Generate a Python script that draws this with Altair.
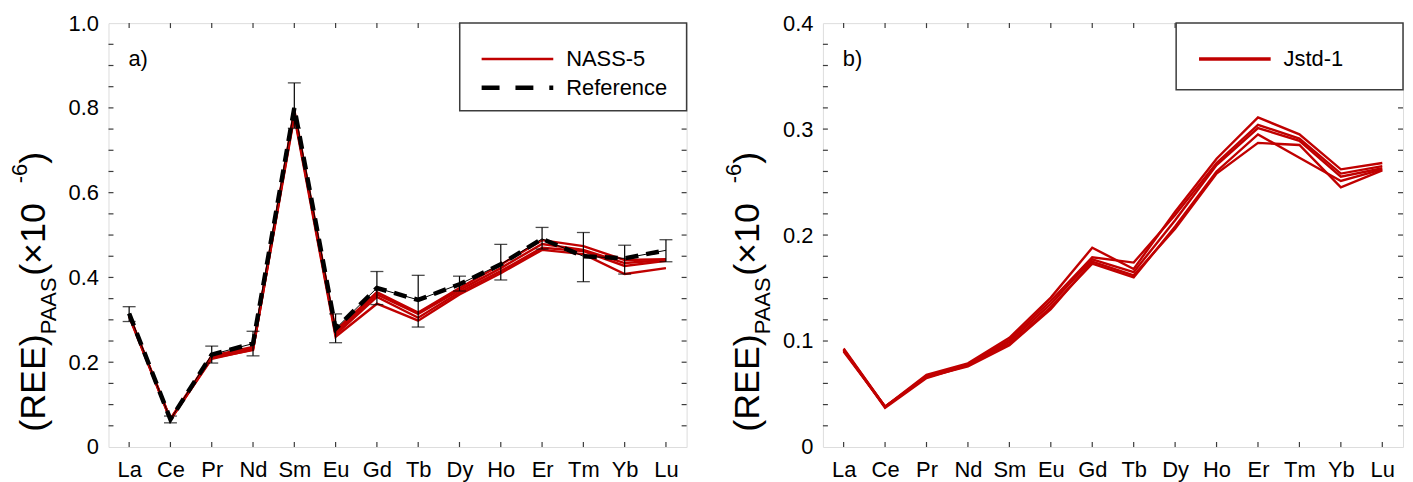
import altair as alt
import pandas as pd

# ---------------- data ----------------
elements = ["La", "Ce", "Pr", "Nd", "Sm", "Eu", "Gd", "Tb", "Dy", "Ho", "Er", "Tm", "Yb", "Lu"]

nass5_run1 = [0.312, 0.066, 0.215, 0.236, 0.795, 0.275, 0.365, 0.317, 0.375, 0.430, 0.488, 0.474, 0.441, 0.443]
nass5_run2 = [0.310, 0.065, 0.212, 0.232, 0.790, 0.270, 0.360, 0.314, 0.370, 0.422, 0.479, 0.465, 0.434, 0.441]
nass5_run3 = [0.308, 0.064, 0.210, 0.229, 0.785, 0.265, 0.354, 0.305, 0.365, 0.415, 0.470, 0.462, 0.427, 0.439]
nass5_run4 = [0.310, 0.065, 0.208, 0.230, 0.780, 0.260, 0.338, 0.298, 0.360, 0.410, 0.465, 0.455, 0.408, 0.422]

ref_value = [0.315, 0.065, 0.218, 0.244, 0.800, 0.279, 0.375, 0.347, 0.384, 0.431, 0.491, 0.450, 0.445, 0.464]
ref_low   = [0.296, 0.057, 0.198, 0.215, 0.752, 0.246, 0.336, 0.283, 0.368, 0.394, 0.467, 0.390, 0.408, 0.437]
ref_high  = [0.331, 0.073, 0.238, 0.273, 0.859, 0.314, 0.414, 0.405, 0.403, 0.478, 0.518, 0.506, 0.476, 0.489]

jstd_run1 = [0.093, 0.038, 0.068, 0.079, 0.103, 0.141, 0.188, 0.168, 0.222, 0.272, 0.311, 0.295, 0.262, 0.268]
jstd_run2 = [0.092, 0.038, 0.067, 0.078, 0.101, 0.138, 0.179, 0.174, 0.219, 0.268, 0.304, 0.291, 0.258, 0.265]
jstd_run3 = [0.091, 0.038, 0.066, 0.077, 0.099, 0.135, 0.177, 0.165, 0.214, 0.266, 0.301, 0.289, 0.255, 0.263]
jstd_run4 = [0.092, 0.037, 0.065, 0.077, 0.097, 0.132, 0.173, 0.160, 0.208, 0.260, 0.295, 0.273, 0.251, 0.262]
jstd_run5 = [0.090, 0.038, 0.066, 0.076, 0.096, 0.130, 0.175, 0.162, 0.206, 0.258, 0.287, 0.285, 0.245, 0.261]

left_major = [0, 0.2, 0.4, 0.6, 0.8, 1.0]
left_minor = [0.05, 0.1, 0.15, 0.2, 0.25, 0.3, 0.35, 0.4, 0.45, 0.5, 0.55, 0.6, 0.65, 0.7,
              0.75, 0.8, 0.85, 0.9, 0.95]
right_major = [0, 0.1, 0.2, 0.3, 0.4]
right_minor = [0.02, 0.04, 0.06, 0.08, 0.1, 0.12, 0.14, 0.16, 0.18, 0.2, 0.22, 0.24, 0.26, 0.28,
               0.3, 0.32, 0.34, 0.36, 0.38]

# ---------------- style ----------------
FONT = "Liberation Sans"
RED = "#c00000"
FRAME = "#3c3c3c"
W1, W2, H = 581, 583, 426
TICK = 5

def long_df(runs):
    rows = []
    for name, vals in runs.items():
        for e, v in zip(elements, vals):
            rows.append({"run": name, "element": e, "value": v})
    return pd.DataFrame(rows)

nass_df = long_df({"r1": nass5_run1, "r2": nass5_run2, "r3": nass5_run3, "r4": nass5_run4})
jstd_df = long_df({"r1": jstd_run1, "r2": jstd_run2, "r3": jstd_run3, "r4": jstd_run4, "r5": jstd_run5})
ref_df = pd.DataFrame({"element": elements, "value": ref_value, "low": ref_low, "high": ref_high})
el_df = pd.DataFrame({"element": elements})
one = pd.DataFrame({"k": [0]})

xscale = alt.Scale(type="point", domain=elements, padding=0.5)
xaxis = alt.Axis(title=None, labelAngle=0, ticks=False, domain=False, grid=False,
                 labelPadding=13, labelFontSize=22, labelFont=FONT, labelColor="black")

def xenc():
    return alt.X("element:N", scale=xscale, axis=xaxis, sort=elements)

def yenc(field, domain, values):
    return alt.Y(field, scale=alt.Scale(domain=domain, nice=False, zero=True),
                 axis=alt.Axis(title=None, values=values, ticks=False, domain=False, grid=False,
                               labelPadding=10, labelFontSize=22, labelFont=FONT, labelColor="black",
                               labelExpr="datum.value == 0 ? '0' : format(datum.value, '.1f')"))

# char widths (em) for Arial-metric font, used to chain the axis title pieces
CW = {"(": 0.333, ")": 0.333, "R": 0.722, "E": 0.667, "P": 0.667, "A": 0.667, "S": 0.667,
      " ": 0.278, "×": 0.584, "1": 0.556, "0": 0.556, "-": 0.333, "6": 0.556}

def text_len(s, size):
    return sum(CW.get(c, 0.556) for c in s) * size

def ytitle_layers():
    F, f = 36, 22
    base_x = -64
    pieces = [("(REE)", F, base_x), ("PAAS", f, base_x + 11), ("  (×10", F, base_x),
              ("-6", f, base_x - 18), (")", F, base_x)]
    total = sum(text_len(s, sz) for s, sz, _ in pieces)
    y = 270 + total / 2
    layers = []
    for s, sz, bx in pieces:
        layers.append(alt.Chart(one).mark_text(text=s, angle=270, align="left", baseline="alphabetic",
                                               fontSize=sz, font=FONT, color="black")
                      .encode(x=alt.value(bx), y=alt.value(y)))
        y -= text_len(s, sz)
    return layers

def frame_ticks(W, ticks_df):
    layers = []
    layers.append(alt.Chart(ticks_df).mark_rule(color=FRAME, strokeWidth=1.2)
                  .encode(y="v:Q", x=alt.value(0), x2=alt.value(TICK)))
    layers.append(alt.Chart(ticks_df).mark_rule(color=FRAME, strokeWidth=1.2)
                  .encode(y="v:Q", x=alt.value(W - TICK), x2=alt.value(W)))
    layers.append(alt.Chart(el_df).mark_rule(color=FRAME, strokeWidth=1.2)
                  .encode(x=xenc(), y=alt.value(0), y2=alt.value(TICK)))
    layers.append(alt.Chart(el_df).mark_rule(color=FRAME, strokeWidth=1.2)
                  .encode(x=xenc(), y=alt.value(H - TICK), y2=alt.value(H)))
    return layers

# ---------------- left panel ----------------
ly = lambda fld: yenc(fld, [0, 1.0], left_major)

left_layers = []
left_layers.append(alt.Chart(nass_df).mark_line(color=RED, strokeWidth=2.4)
                   .encode(x=xenc(), y=ly("value:Q"), detail="run:N"))
left_layers += frame_ticks(W1, pd.DataFrame({"v": left_minor}))
left_layers.append(alt.Chart(ref_df).mark_rule(color="black", strokeWidth=1.2)
                   .encode(x=xenc(), y=ly("low:Q"), y2="high:Q"))
left_layers.append(alt.Chart(ref_df).mark_tick(color="black", thickness=1.3, size=13)
                   .encode(x=xenc(), y=ly("low:Q")))
left_layers.append(alt.Chart(ref_df).mark_tick(color="black", thickness=1.3, size=13)
                   .encode(x=xenc(), y=ly("high:Q")))
left_layers.append(alt.Chart(ref_df).mark_line(color="black", strokeWidth=1)
                   .encode(x=xenc(), y=ly("value:Q")))
left_layers.append(alt.Chart(ref_df).mark_line(color="black", strokeWidth=4.5, strokeDash=[13, 8])
                   .encode(x=xenc(), y=ly("value:Q")))
# legend box
left_layers.append(alt.Chart(one).mark_rect(fill="white", stroke=FRAME, strokeWidth=1.5)
                   .encode(x=alt.value(353), x2=alt.value(W1), y=alt.value(0), y2=alt.value(88)))
left_layers.append(alt.Chart(one).mark_rule(color=RED, strokeWidth=2.4)
                   .encode(x=alt.value(375), x2=alt.value(447), y=alt.value(36)))
left_layers.append(alt.Chart(one).mark_rule(color="black", strokeWidth=4.5, strokeDash=[18, 16])
                   .encode(x=alt.value(375), x2=alt.value(447), y=alt.value(65)))
left_layers.append(alt.Chart(one).mark_text(text="NASS-5", align="left", baseline="middle",
                                            fontSize=22, font=FONT, color="black")
                   .encode(x=alt.value(460), y=alt.value(36)))
left_layers.append(alt.Chart(one).mark_text(text="Reference", align="left", baseline="middle",
                                            fontSize=22, font=FONT, color="black")
                   .encode(x=alt.value(460), y=alt.value(65)))
left_layers.append(alt.Chart(one).mark_text(text="a)", align="left", baseline="middle",
                                            fontSize=22, font=FONT, color="black")
                   .encode(x=alt.value(20), y=alt.value(36)))
left_layers += ytitle_layers()

left = alt.layer(*left_layers).properties(width=W1, height=H)

# ---------------- right panel ----------------
ry = lambda fld: yenc(fld, [0, 0.4], right_major)

right_layers = []
right_layers.append(alt.Chart(jstd_df).mark_line(color=RED, strokeWidth=2.4)
                    .encode(x=xenc(), y=ry("value:Q"), detail="run:N"))
right_layers += frame_ticks(W2, pd.DataFrame({"v": right_minor}))
right_layers.append(alt.Chart(one).mark_rect(fill="white", stroke=FRAME, strokeWidth=1.5)
                    .encode(x=alt.value(355), x2=alt.value(W2), y=alt.value(0), y2=alt.value(67)))
right_layers.append(alt.Chart(one).mark_rule(color=RED, strokeWidth=3.5)
                    .encode(x=alt.value(378), x2=alt.value(450), y=alt.value(36)))
right_layers.append(alt.Chart(one).mark_text(text="Jstd-1", align="left", baseline="middle",
                                             fontSize=22, font=FONT, color="black")
                    .encode(x=alt.value(463), y=alt.value(36)))
right_layers.append(alt.Chart(one).mark_text(text="b)", align="left", baseline="middle",
                                             fontSize=22, font=FONT, color="black")
                    .encode(x=alt.value(20), y=alt.value(36)))
right_layers += ytitle_layers()

right = alt.layer(*right_layers).properties(width=W2, height=H)

chart = (alt.hconcat(left, right, spacing=34)
         .properties(padding={"left": 0, "top": 2, "right": 0, "bottom": 0})
         .configure_view(stroke=FRAME, strokeWidth=1.5)
         .configure(font=FONT))

chart.save("out.html", embed_options={"renderer": "svg", "actions": False})
